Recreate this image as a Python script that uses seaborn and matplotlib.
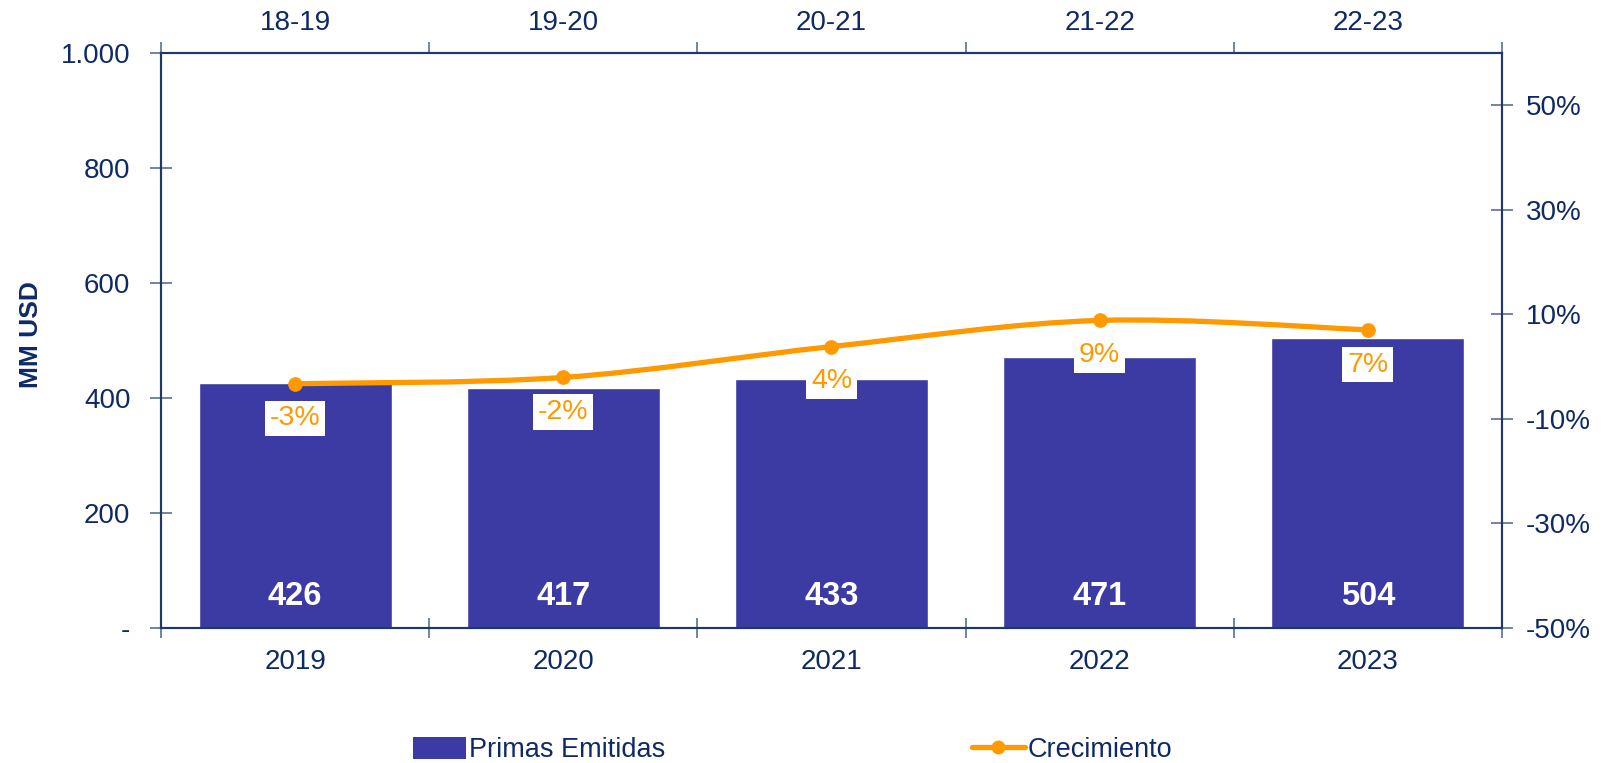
import matplotlib
matplotlib.use('Agg')
import matplotlib.pyplot as plt
import seaborn as sb
import numpy as np
from matplotlib.path import Path
from matplotlib.patches import PathPatch, Patch
from matplotlib.lines import Line2D
from matplotlib.ticker import FuncFormatter, FixedLocator

years = ['2019', '2020', '2021', '2022', '2023']
periods = ['18-19', '19-20', '20-21', '21-22', '22-23']
primas = [426, 417, 433, 471, 504]
crecimiento = [-3.3, -2.1, 3.8, 8.8, 7.0]

navy = '#0E2A66'
axis_col = '#1F3864'
bar_col = '#3B3BA3'
orange = '#FF9900'

sb.set_style('white')
plt.rcParams['font.family'] = ['Liberation Sans', 'DejaVu Sans']

fig = plt.figure(figsize=(16.05, 7.63), dpi=100)
ax = fig.add_axes([0.1003, 0.177, 0.9358 - 0.1003, 0.931 - 0.177])

sb.barplot(x=years, y=primas, color=bar_col, width=0.72, saturation=1, ax=ax)
ax.set_xlim(-0.5, len(years) - 0.5)
ax.set_ylim(0, 1000)
ax.set_yticks(range(0, 1001, 200))
ax.yaxis.set_major_formatter(FuncFormatter(lambda v, p: '-' if v == 0 else f'{int(v):,}'.replace(',', '.')))
ax.set_ylabel('MM USD', fontsize=19, fontweight='bold', color=navy)
ax.yaxis.set_label_coords(-0.088, 0.51)
ax.set_xlabel('')

for s in ax.spines.values():
    s.set_color(axis_col)
    s.set_linewidth(1.5)

bounds = np.arange(-0.5, len(years), 1.0)
ax.xaxis.set_minor_locator(FixedLocator(bounds))
ax.tick_params(axis='x', which='major', length=0, pad=15, labelsize=20, labelcolor=navy)
ax.tick_params(axis='x', which='minor', direction='inout', length=14, width=1.2, color='#5A6E96', bottom=True)
ax.tick_params(axis='y', direction='inout', length=16, width=1.2, color='#5A6E96', pad=14, labelsize=20, labelcolor=navy, left=True)

for i, v in enumerate(primas):
    ax.text(i, 54, f'{v}', ha='center', va='center', color='white', fontsize=23.5, fontweight='bold')

# top axis with growth periods
top = ax.secondary_xaxis('top')
top.set_xticks(range(len(periods)))
top.set_xticklabels(periods)
top.xaxis.set_minor_locator(FixedLocator(bounds))
top.tick_params(axis='x', which='major', length=0, pad=12, labelsize=20, labelcolor=navy)
top.tick_params(axis='x', which='minor', direction='out', length=8, width=1.2, color='#5A6E96')
top.spines['top'].set_visible(False)

# growth line on secondary y
ax2 = ax.twinx()
ax2.set_ylim(-50, 60)
ax2.set_yticks(range(-50, 51, 20))
ax2.yaxis.set_major_formatter(FuncFormatter(lambda v, p: f'{int(v)}%'))
ax2.tick_params(axis='y', direction='inout', length=16, width=1.2, color='#5A6E96', pad=9, labelsize=20, labelcolor=navy, right=True)
for s in ax2.spines.values():
    s.set_color(axis_col)
    s.set_linewidth(1.5)
ax2.grid(False)

# smoothed line (Catmull-Rom as cubic Bezier, like Excel's smooth line)
xs = np.arange(len(crecimiento), dtype=float)
ys = np.array(crecimiento, dtype=float)
px = np.concatenate([[xs[0]], xs, [xs[-1]]])
py = np.concatenate([[ys[0]], ys, [ys[-1]]])
verts = [(xs[0], ys[0])]
codes = [Path.MOVETO]
for i in range(1, len(xs)):
    p0 = np.array([px[i - 1], py[i - 1]])
    p1 = np.array([px[i], py[i]])
    p2 = np.array([px[i + 1], py[i + 1]])
    p3 = np.array([px[i + 2], py[i + 2]])
    c1 = p1 + (p2 - p0) / 6
    c2 = p2 - (p3 - p1) / 6
    verts += [tuple(c1), tuple(c2), tuple(p2)]
    codes += [Path.CURVE4] * 3
ax2.add_patch(PathPatch(Path(verts, codes), facecolor='none', edgecolor=orange, lw=3.8, capstyle='round', zorder=3))
sb.scatterplot(x=xs, y=ys, color=orange, s=95, edgecolor=orange, ax=ax2, zorder=4, legend=False)

for x, y in zip(xs, ys):
    ax2.annotate(f'{round(y):.0f}%', (x, y), xytext=(0, -25), textcoords='offset points',
                 ha='center', va='center', color=orange, fontsize=20.5,
                 bbox=dict(boxstyle='square,pad=0.17', fc='white', ec='none'))

handles = [Patch(facecolor=bar_col, edgecolor='none', label='Primas Emitidas'),
           Line2D([0], [0], color=orange, lw=3.8, marker='o', markersize=9, label='Crecimiento')]
fig.legend(handles=handles, loc='center', bbox_to_anchor=(0.494, 0.017), ncol=2, frameon=False,
           prop={'size': 19.5}, labelcolor=navy, columnspacing=11.3, handlelength=1.95,
           handleheight=0.9, handletextpad=0.12)

fig.savefig('out.png', dpi=100)
